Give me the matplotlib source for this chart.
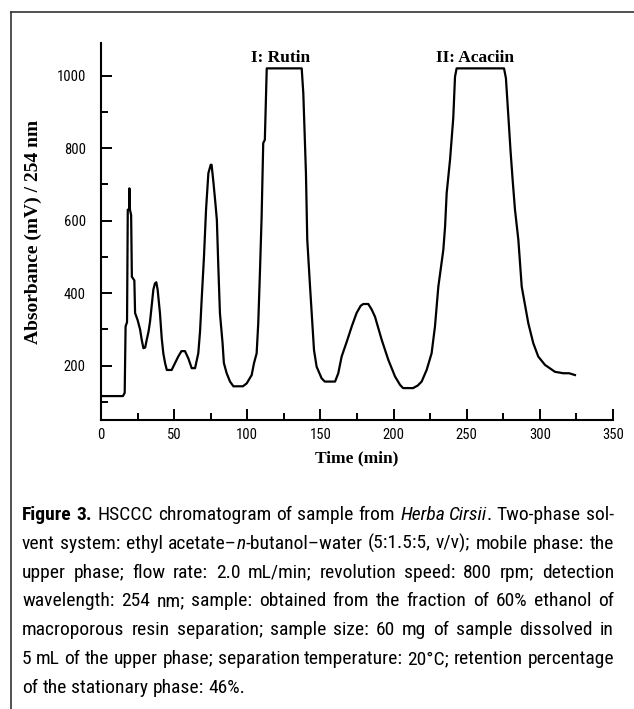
import re
import numpy as np
import matplotlib
matplotlib.use('Agg')
import matplotlib.pyplot as plt
from matplotlib.lines import Line2D
from matplotlib.ticker import MultipleLocator

# chromatogram trace (time in min, absorbance in mV)
time_min = [0, 15.0, 16.2, 16.8, 17.8, 18.3, 19.2, 19.4, 19.8, 20.6, 21.1, 22.8, 23.3, 25.0,
            26.7, 27.8, 29.0, 30.2, 31.3, 32.5, 33.5, 34.7, 35.8, 36.9, 37.8, 38.7, 40.3,
            41.5, 42.6, 43.8, 45.0, 48.3, 50.6, 52.8, 55.0, 57.4, 59.7, 62.0, 64.3, 66.5,
            67.7, 68.8, 70.4, 71.8, 73.4, 75.0, 75.6, 76.8, 78.0, 79.2, 80.2, 81.3, 83.1,
            84.0, 85.9, 88.2, 90.5, 97.0, 99.6, 103.0, 104.6, 106.4, 107.5, 108.7, 109.8,
            110.9, 112.0, 113.3, 137.2, 138.3, 140.1, 141.0, 142.9, 144.6, 145.6, 147.4,
            150.8, 153.0, 160.0, 162.2, 164.5, 168.0, 171.4, 174.7, 177.5, 179.3, 182.7,
            185.0, 187.3, 191.9, 196.4, 201.0, 204.4, 206.5, 213.3, 216.5, 219.2, 222.6,
            226.0, 228.3, 230.6, 234.0, 235.2, 236.3, 238.6, 240.8, 242.0, 243.1, 275.5,
            276.8, 278.4, 280.0, 281.4, 283.0, 285.3, 287.6, 292.1, 295.5, 298.9, 303.5,
            310.3, 316.0, 320.0, 324.0]
absorb = [116, 116, 125, 308, 320, 630, 632, 689, 630, 615, 445, 435, 345, 326,
          300, 272, 248, 250, 272, 294, 321, 367, 410, 427, 430, 410, 345,
          276, 234, 207, 188, 188, 207, 225, 240, 240, 220, 193, 193, 234,
          294, 381, 501, 630, 731, 754, 754, 708, 657, 602, 473, 345, 262,
          207, 179, 156, 143, 143, 151, 174, 207, 234, 317, 464, 611,
          814, 823, 1020, 1020, 951, 731, 547, 418, 308, 243, 197,
          165, 156, 156, 179, 225, 266, 308, 345, 365, 370, 370,
          355, 335, 271, 216, 170, 147, 138, 138, 145, 156, 188,
          234, 308, 418, 519, 583, 676, 768, 883, 997, 1020, 1020,
          993, 892, 790, 712, 630, 547, 418, 317, 262, 225, 202,
          183, 179, 179, 174]

peak_names = ['I: Rutin', 'II: Acaciin']
peak_pos = [123, 256]

caption = [
    "<b>Figure 3.</b> HSCCC chromatogram of sample from <i>Herba Cirsii</i>. Two-phase sol-",
    "vent system: ethyl acetate–<i>n</i>-butanol–water (5:1.5:5, v/v); mobile phase: the",
    "upper phase; flow rate: 2.0 mL/min; revolution speed: 800 rpm; detection",
    "wavelength: 254 nm; sample: obtained from the fraction of 60% ethanol of",
    "macroporous resin separation; sample size: 60 mg of sample dissolved in",
    "5 mL of the upper phase; separation temperature: 20°C; retention percentage",
    "of the stationary phase: 46%.",
]

W, H = 634, 709
serif = ['Liberation Serif', 'DejaVu Serif']
narrow = ['Roboto Condensed', 'DejaVu Sans Condensed', 'Liberation Sans Narrow',
          'Open Sans Condensed', 'Liberation Sans']

fig = plt.figure(figsize=(W / 100, H / 100), dpi=100)
ax = fig.add_axes([101 / W, 1 - 420 / H, 512 / W, 377 / H])

ax.plot(time_min, absorb, color='black', lw=1.6)
for name, x in zip(peak_names, peak_pos):
    ax.text(x, 1038, name, ha='center', va='baseline', family=serif,
            fontweight='bold', fontsize=12.5)

ax.set_xlim(0, 350)
ax.set_ylim(50, 1090)
ax.xaxis.set_major_locator(MultipleLocator(50))
ax.xaxis.set_minor_locator(MultipleLocator(25))
ax.yaxis.set_major_locator(MultipleLocator(200))
ax.yaxis.set_minor_locator(MultipleLocator(100))
ax.yaxis.set_ticks([200, 400, 600, 800, 1000])
ax.tick_params(which='both', direction='in', width=1.4, labelsize=10.5)
ax.tick_params(which='major', length=8)
ax.tick_params(which='minor', length=5)
ax.tick_params(axis='y', pad=11)
ax.tick_params(axis='x', pad=6)
for lab in ax.get_xticklabels() + ax.get_yticklabels():
    lab.set_family(narrow)
    lab.set_fontstretch('condensed')
for s in ['top', 'right']:
    ax.spines[s].set_visible(False)
for s in ['left', 'bottom']:
    ax.spines[s].set_linewidth(1.5)

ax.set_xlabel('Time (min)', family=serif, fontweight='bold', fontsize=12.5, labelpad=6)
ax.set_ylabel('Absorbance (mV) / 254 nm', family=serif, fontweight='bold',
              fontsize=14, labelpad=10)

# outer frame (top and left only)
fig.add_artist(Line2D([11 / W, 1], [1 - 12 / H, 1 - 12 / H], color='#333333', lw=1.2))
fig.add_artist(Line2D([11 / W, 11 / W], [0, 1 - 12 / H], color='#333333', lw=1.2))


# caption, justified word by word
def parse_words(line):
    runs = []
    for m in re.finditer(r'<(b|i)>(.*?)</\1>|([^<]+)', line):
        if m.group(3):
            runs.append((m.group(3), 'n'))
        else:
            runs.append((m.group(2), m.group(1)))
    words = [[]]
    for txt, st in runs:
        parts = txt.split(' ')
        for k, p in enumerate(parts):
            if k > 0:
                words.append([])
            if p:
                words[-1].append((p, st))
    return [w for w in words if w]


renderer = fig.canvas.get_renderer()
x_left, x_right = 22, 614
base0, step = 520, 28.8
cap_size = 14
for i, line in enumerate(caption):
    yb = 1 - (base0 + i * step) / H
    words = parse_words(line)
    placed = []
    for w in words:
        runs = []
        wsum = 0
        for txt, st in w:
            t = fig.text(0, yb, txt, fontsize=cap_size, family=narrow, va='baseline',
                         fontstretch='condensed',
                         fontweight='bold' if st == 'b' else 'normal',
                         fontstyle='italic' if st == 'i' else 'normal')
            wd = t.get_window_extent(renderer).width
            if st == 'i':
                wd -= 1.0
            runs.append((t, wd))
            wsum += wd
        placed.append((runs, wsum))
    total = sum(p[1] for p in placed)
    if i < len(caption) - 1 and len(placed) > 1:
        gap = (x_right - x_left - total) / (len(placed) - 1)
    else:
        sp = fig.text(0, 0, 'a a', fontsize=cap_size, family=narrow, fontstretch='condensed')
        sp2 = fig.text(0, 0, 'aa', fontsize=cap_size, family=narrow, fontstretch='condensed')
        gap = sp.get_window_extent(renderer).width - sp2.get_window_extent(renderer).width
        sp.remove()
        sp2.remove()
    x = x_left
    for runs, wsum in placed:
        for t, wd in runs:
            t.set_x(x / W)
            x += wd
        x += gap

fig.savefig('out.png', dpi=100)
